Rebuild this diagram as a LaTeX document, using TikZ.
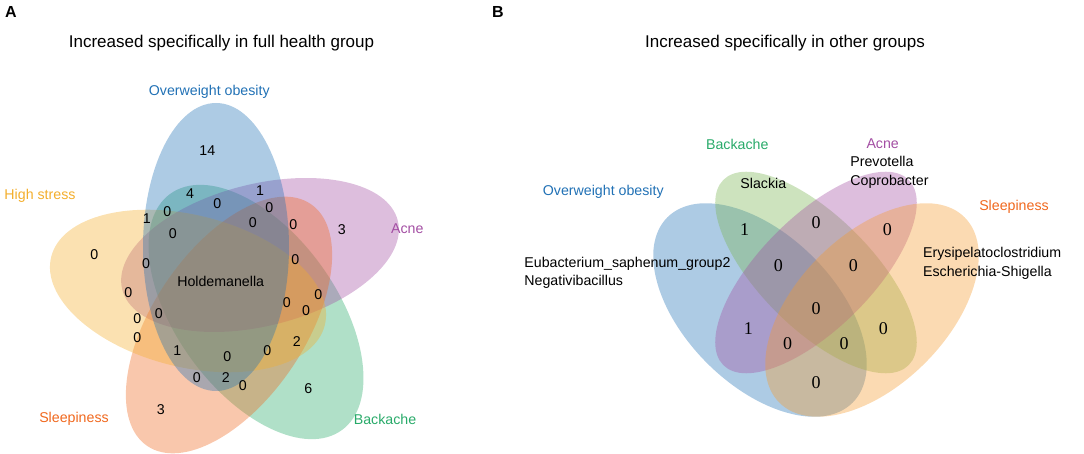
\documentclass[tikz,border=0pt]{standalone}
\usepackage{fontspec}
\setmainfont{Liberation Sans}
\newfontfamily\cntfont{Liberation Serif}

\definecolor{obeseblue}{RGB}{33,113,181}
\definecolor{stressyellow}{RGB}{243,174,44}
\definecolor{acnepurple}{RGB}{163,78,163}
\definecolor{sleeporange}{RGB}{240,104,30}
\definecolor{backgreen}{RGB}{40,170,105}
\definecolor{backolive}{RGB}{120,180,80}
\definecolor{sleeppeach}{RGB}{245,155,45}

\tikzset{
  setfill/.style={fill=#1, fill opacity=0.37},
  setlabel/.style={text=#1, font=\fontsize{7.1}{8.5}\selectfont},
  cnt/.style={font=\fontsize{7.1}{8.5}\selectfont},
  cntB/.style={font=\cntfont\fontsize{9}{10}\selectfont},
  taxa/.style={font=\fontsize{7.1}{9.2}\selectfont, align=left, anchor=west, inner sep=0pt},
  paneltitle/.style={font=\fontsize{8.5}{10}\selectfont},
  panelletter/.style={font=\bfseries\fontsize{8}{9}\selectfont},
}

\begin{document}
\begin{tikzpicture}[x=0.5pt,y=-0.5pt]

      \useasboundingbox (0,0) rectangle (1084,454);

      % A: five sets
      \fill[setfill=backgreen, rotate around={-54:(256,312)}] (256,312) ellipse [x radius=146, y radius=80];
      \fill[setfill=acnepurple, rotate around={14:(260,255)}] (260,255) ellipse [x radius=142, y radius=71];
      \fill[setfill=sleeporange, rotate around={56:(229,325)}] (229,325) ellipse [x radius=146, y radius=76];
      \fill[setfill=stressyellow, rotate around={-14:(188,291)}] (188,291) ellipse [x radius=141, y radius=76];
      \fill[setfill=obeseblue, rotate around={90:(216,247)}] (216,247) ellipse [x radius=144, y radius=73];

      \node[panelletter] (A) at (11,12) {A};
      \node[paneltitle] (titleA) at (221.5,43) {Increased specifically in full health group};

      \node[setlabel=obeseblue] (obeseA) at (209.3,92.3) {Overweight obesity};
      \node[setlabel=stressyellow] (stressA) at (40,195.7) {High stress};
      \node[setlabel=acnepurple] (acneA) at (407.3,229) {Acne};
      \node[setlabel=sleeporange] (sleepA) at (74,419.3) {Sleepiness};
      \node[setlabel=backgreen] (backA) at (385,419.3) {Backache};

      \begin{scope}[every node/.style={cnt}]
        \node (a1)  at (207.3,151)   {14};
        \node (a2)  at (190,193.3)   {4};
        \node (a3)  at (260,190.7)   {1};
        \node (a4)  at (217.3,204)   {0};
        \node (a5)  at (146.7,219)   {1};
        \node (a6)  at (167.3,211.7) {0};
        \node (a7)  at (269.3,207.7) {0};
        \node (a8)  at (252.7,222.7) {0};
        \node (a9)  at (293.3,225)   {0};
        \node (a10) at (172.7,233.3) {0};
        \node (a11) at (341.7,229.3) {3};
        \node (a12) at (94.3,254.3)  {0};
        \node (a13) at (146,263.3)   {0};
        \node (a14) at (295.3,260)   {0};
        \node (a15) at (220.7,281.7) {Holdemanella};
        \node (a16) at (128.3,292.3) {0};
        \node (a17) at (318.3,295)   {0};
        \node (a18) at (286.7,302.7) {0};
        \node (a19) at (158.7,313.3) {0};
        \node (a20) at (306,310.7)   {0};
        \node (a21) at (137.3,318.3) {0};
        \node (a22) at (137.3,337.7) {0};
        \node (a23) at (296.7,341.7) {2};
        \node (a24) at (177.3,351)   {1};
        \node (a25) at (227.3,356.7) {0};
        \node (a26) at (267.3,351)   {0};
        \node (a27) at (196.7,377.7) {0};
        \node (a28) at (225.7,377.7) {2};
        \node (a29) at (242.7,385.7) {0};
        \node (a30) at (308.3,388.3) {6};
        \node (a31) at (160.7,410)   {3};
      \end{scope}

      % B: four sets
      \fill[setfill=obeseblue, rotate around={-45:(760,310)}] (760,310) ellipse [x radius=131, y radius=75];
      \fill[setfill=backolive, rotate around={-45:(816,272.5)}] (816,272.5) ellipse [x radius=131, y radius=56];
      \fill[setfill=acnepurple, rotate around={45:(816,272.5)}] (816,272.5) ellipse [x radius=131, y radius=56];
      \fill[setfill=sleeppeach, rotate around={45:(872,310)}] (872,310) ellipse [x radius=131, y radius=75];

      \node[panelletter] (B) at (498,12) {B};
      \node[paneltitle] (titleB) at (785,43) {Increased specifically in other groups};

      \node[setlabel=backgreen] (backB) at (737.3,144) {Backache};
      \node[setlabel=acnepurple] (acneB) at (882.7,144) {Acne};
      \node[setlabel=obeseblue] (obeseB) at (603.3,192.3) {Overweight obesity};
      \node[setlabel=sleeporange] (sleepB) at (1014,207.3) {Sleepiness};

      \node[cnt] (slackia) at (763.3,183.3) {Slackia};
      \node[taxa] (prevo) at (850,172.5) {Prevotella\\Coprobacter};
      \node[taxa] (eubac) at (524,273) {Eubacterium\_saphenum\_group2\\Negativibacillus};
      \node[taxa] (erysi) at (922.7,263.3) {Erysipelatoclostridium\\Escherichia-Shigella};

      \begin{scope}[every node/.style={cntB}]
        \node (b1)  at (744.7,230)   {1};
        \node (b2)  at (816,222.7)   {0};
        \node (b3)  at (887.3,230)   {0};
        \node (b4)  at (778.3,265.7) {0};
        \node (b5)  at (853.3,265.7) {0};
        \node (b6)  at (816,308.3)   {0};
        \node (b7)  at (748.3,328.3) {1};
        \node (b8)  at (883.3,328.3) {0};
        \node (b9)  at (787.7,343.3) {0};
        \node (b10) at (844,343.3)   {0};
        \node (b11) at (816,382.7)   {0};
      \end{scope}

    \end{tikzpicture}
\end{document}
